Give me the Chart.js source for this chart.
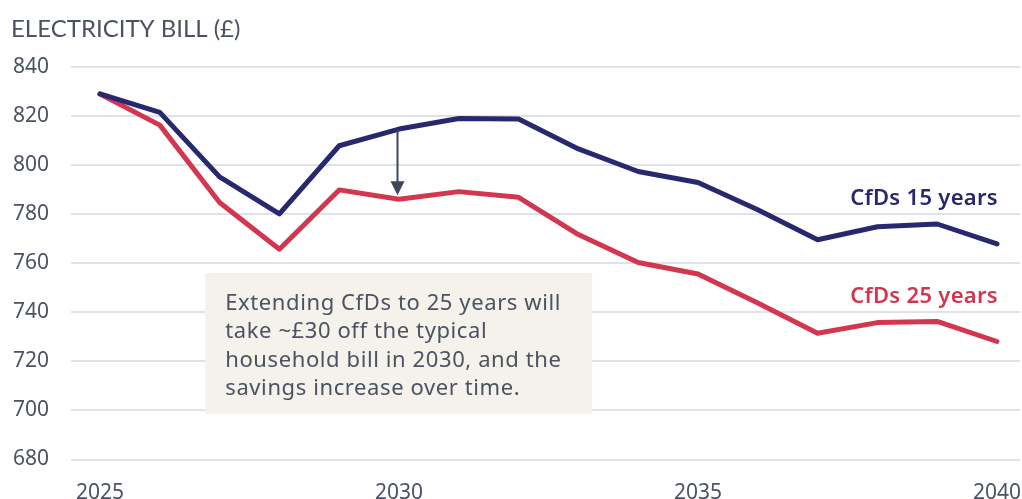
<!DOCTYPE html>
<html>
<head>
<meta charset="utf-8">
<script src="https://cdn.jsdelivr.net/npm/chart.js@4.4.1/dist/chart.umd.min.js"></script>
<style>
  html, body { margin: 0; padding: 0; background: #fff; }
  #wrap { width: 1022px; height: 499px; position: relative; }
</style>
</head>
<body>
<div id="wrap"><canvas id="bill"></canvas></div>
<script>
// data
const years = [2025, 2026, 2027, 2028, 2029, 2030, 2031, 2032, 2033, 2034, 2035, 2036, 2037, 2038, 2039, 2040];
const cfd15 = [829, 821.5, 795.2, 780.1, 807.9, 814.7, 819, 818.8, 806.6, 797.4, 792.9, 781.8, 769.6, 774.9, 776, 767.9];
const cfd25 = [829, 816.3, 784.8, 765.7, 789.9, 786.1, 789.2, 786.9, 771.7, 760.3, 755.6, 743.8, 731.5, 735.8, 736.3, 728.1];
const xTicks = [2025, 2030, 2035, 2040];
const yTicks = [680, 700, 720, 740, 760, 780, 800, 820, 840];
const seriesNames = ['CfDs 15 years', 'CfDs 25 years'];
const noteLines = [
  'Extending CfDs to 25 years will',
  'take ~£30 off the typical',
  'household bill in 2030, and the',
  'savings increase over time.'
];
const arrowYear = 2030;

const NAVY = '#28286f';
const RED = '#d2374f';
const TEXT = '#4b5262';

const toPoints = (vals) => vals.map((v, i) => ({ x: years[i], y: v }));

// arrow between the two lines at 2030
const arrowPlugin = {
  id: 'arrow',
  afterDatasetsDraw(chart) {
    const { ctx, scales: { x, y } } = chart;
    const i = years.indexOf(arrowYear);
    const px = Math.round(x.getPixelForValue(arrowYear)) - 1.5;
    const y0 = y.getPixelForValue(cfd15[i]) + 1;
    const y1 = y.getPixelForValue(cfd25[i]) - 4;
    ctx.save();
    ctx.strokeStyle = '#3e4657';
    ctx.fillStyle = '#3e4657';
    ctx.lineWidth = 2;
    ctx.beginPath();
    ctx.moveTo(px, y0);
    ctx.lineTo(px, y1 - 12);
    ctx.stroke();
    ctx.beginPath();
    ctx.moveTo(px - 7, y1 - 14);
    ctx.lineTo(px + 7, y1 - 14);
    ctx.lineTo(px, y1);
    ctx.closePath();
    ctx.fill();
    ctx.restore();
  }
};

// text box + end labels
const notePlugin = {
  id: 'note',
  beforeDatasetsDraw(chart) {
    const { ctx, scales: { x, y } } = chart;
    const left = x.getPixelForValue(2026.76);
    const right = x.getPixelForValue(2033.23);
    const top = y.getPixelForValue(756);
    const bottom = y.getPixelForValue(698.5);
    ctx.save();
    ctx.fillStyle = '#f4f2eb';
    ctx.fillRect(left, top, right - left, bottom - top);
    ctx.fillStyle = TEXT;
    ctx.font = '22px "Noto Sans"';
    ctx.letterSpacing = '0.6px';
    ctx.textBaseline = 'middle';
    ctx.textAlign = 'left';
    noteLines.forEach((line, k) => {
      ctx.fillText(line, left + 20, top + 30.5 + k * 28.5);
    });
    ctx.restore();
  },
  afterDatasetsDraw(chart) {
    const { ctx, scales: { x, y } } = chart;
    const last = years.length - 1;
    const px = x.getPixelForValue(years[last]) + 1;
    ctx.save();
    ctx.font = '600 22px "Noto Sans"';
    ctx.letterSpacing = '0.3px';
    ctx.textAlign = 'right';
    ctx.textBaseline = 'middle';
    ctx.fillStyle = NAVY;
    ctx.fillText(seriesNames[0], px, y.getPixelForValue(cfd15[last] + 18.2));
    ctx.fillStyle = RED;
    ctx.fillText(seriesNames[1], px, y.getPixelForValue(cfd25[last] + 18.2));
    ctx.restore();
  }
};

new Chart(document.getElementById('bill'), {
  type: 'line',
  data: {
    datasets: [
      {
        label: seriesNames[0],
        data: toPoints(cfd15),
        borderColor: NAVY,
        borderWidth: 5,
        pointRadius: 0,
        borderCapStyle: 'round',
        borderJoinStyle: 'round',
        tension: 0
      },
      {
        label: seriesNames[1],
        data: toPoints(cfd25),
        borderColor: RED,
        borderWidth: 5,
        pointRadius: 0,
        borderCapStyle: 'round',
        borderJoinStyle: 'round',
        tension: 0
      }
    ]
  },
  options: {
    responsive: true,
    maintainAspectRatio: false,
    animation: false,
    layout: { padding: { top: 0, left: 11, right: 2, bottom: 0 } },
    plugins: {
      legend: { display: false },
      tooltip: { enabled: false },
      title: {
        display: true,
        text: 'ELECTRICITY BILL (£)',
        align: 'start',
        color: TEXT,
        font: { family: 'Lato', size: 24, weight: 'normal', lineHeight: 1.2 },
        padding: { top: 15, bottom: 23.2 }
      }
    },
    scales: {
      x: {
        type: 'linear',
        min: 2024.515,
        max: 2040.385,
        afterBuildTicks: (scale) => { scale.ticks = xTicks.map(v => ({ value: v })); },
        afterFit: (scale) => {
          scale.height = 39.5;
          scale.paddingLeft = 0;
          scale.paddingRight = 0;
        },
        grid: { display: false },
        border: { display: false },
        ticks: {
          color: TEXT,
          padding: 13,
          maxRotation: 0,
          font: { family: 'Noto Sans', size: 21 },
          callback: (v) => String(v)
        }
      },
      y: {
        min: 680,
        max: 840,
        afterBuildTicks: (scale) => { scale.ticks = yTicks.map(v => ({ value: v })); },
        afterFit: (scale) => { scale.width = 60; },
        grid: { color: '#dfe2e9', lineWidth: 2, drawTicks: false },
        border: { display: false },
        ticks: {
          color: TEXT,
          padding: 22,
          font: { family: 'Noto Sans', size: 21 }
        }
      }
    }
  },
  plugins: [notePlugin, arrowPlugin]
});
</script>
</body>
</html>
